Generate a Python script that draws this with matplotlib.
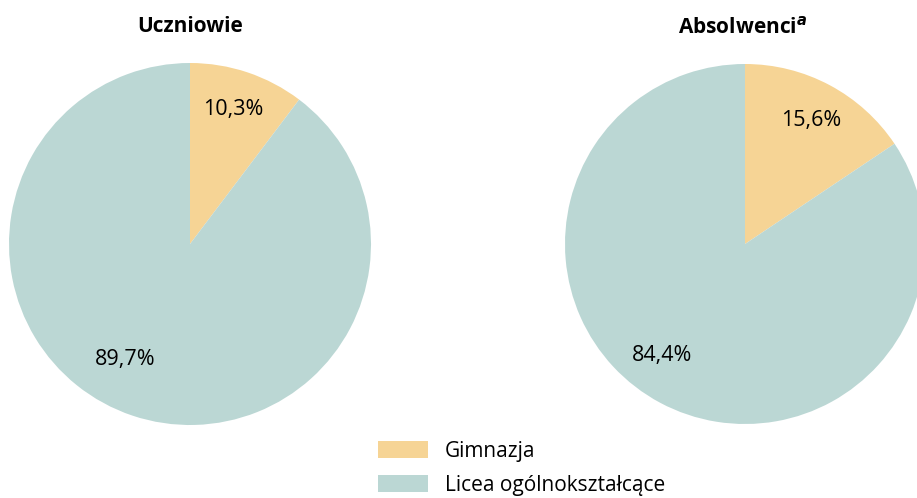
import matplotlib
matplotlib.use("Agg")
import matplotlib.pyplot as plt
import numpy as np

plt.rcParams['font.family'] = ['Open Sans', 'DejaVu Sans']

categories = ["Gimnazja", "Licea ogólnokształcące"]
uczniowie = [10.3, 89.7]
absolwenci = [15.6, 84.4]
labels_uczniowie = ["10,3%", "89,7%"]
labels_absolwenci = ["15,6%", "84,4%"]
colors = ["#F6D495", "#BBD7D4"]

W, H = 917, 498
fig = plt.figure(figsize=(W / 100, H / 100), dpi=100)

def pie_axes(cx, cy, r):
    return fig.add_axes([(cx - r) / W, (H - cy - r) / H, 2 * r / W, 2 * r / H])

def draw(ax, vals, labs, small_pos, big_pos):
    wedges, _ = ax.pie(vals, colors=colors, startangle=90, counterclock=False,
                       radius=1, wedgeprops=dict(linewidth=0))
    ax.set_xlim(-1, 1)
    ax.set_ylim(-1, 1)
    ax.set_aspect('auto')
    ax.axis('off')
    frac = vals[0] / sum(vals)
    ang = np.deg2rad(90 - frac * 360 / 2)
    d, dx, dy = small_pos
    ax.text(d * np.cos(ang) + dx, d * np.sin(ang) + dy, labs[0],
            ha='center', va='center', fontsize=15.5)
    ax.text(big_pos[0], big_pos[1], labs[1], ha='center', va='center', fontsize=15.5)
    return wedges

ax1 = pie_axes(190, 244, 181)
w = draw(ax1, uczniowie, labels_uczniowie, (0.79, -0.01, -0.005), (-0.36, -0.64))
ax2 = pie_axes(745, 244, 180)
draw(ax2, absolwenci, labels_absolwenci, (0.78, 0.0, 0.0), (-0.46, -0.62))

fig.text(190 / W, 1 - 27 / H, "Uczniowie", ha='center', va='center', fontsize=15, fontweight='bold')
fig.text(743 / W, 1 - 27 / H, r"Absolwenci$^{\boldsymbol{a}}$", ha='center', va='center',
         fontsize=15, fontweight='bold')

leg = fig.legend(w, categories, loc='upper left', bbox_to_anchor=(378 / W, 1 - 441 / H),
                 frameon=False, fontsize=15, handlelength=2.4, handleheight=0.9,
                 handletextpad=0.8, labelspacing=0.62, borderaxespad=0, borderpad=0)

fig.savefig("out.png", dpi=100)
